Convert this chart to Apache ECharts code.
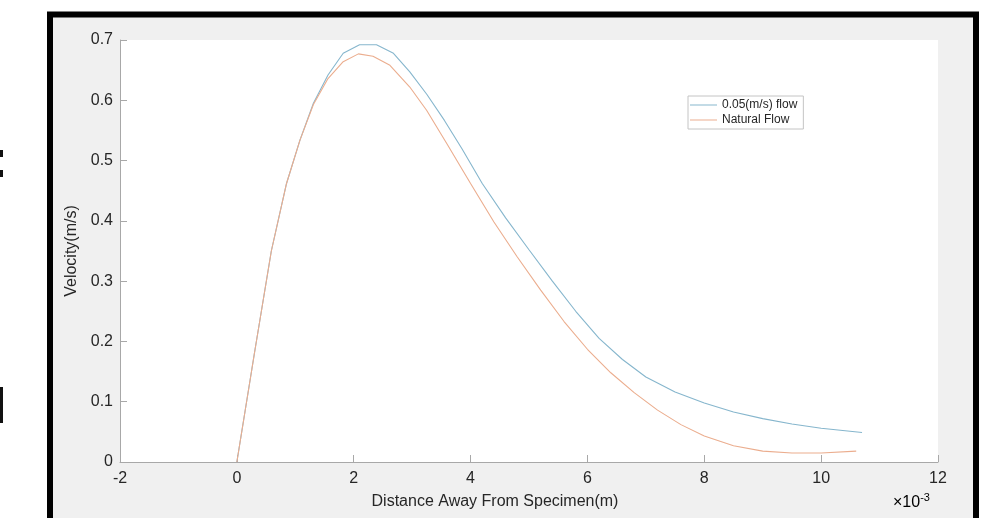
<!DOCTYPE html>
<html>
<head>
  <meta charset="UTF-8">
  <title>Velocity profile</title>
  <script src="https://cdn.jsdelivr.net/npm/echarts@6/dist/echarts.min.js"></script>
  <style>
    html, body { margin: 0; padding: 0; background: #fff; }
  </style>
</head>
<body>
  <div id="chart" style="width:995px; height:518px;"></div>
  <script>
    // x values are in units of 1e-3 m (axis shows x10^-3)
    var flowX = [0, 0.3, 0.59, 0.85, 1.08, 1.31, 1.56, 1.82, 2.1, 2.39, 2.68, 2.96, 3.25, 3.55, 3.85, 4.2, 4.6, 5.0, 5.4, 5.8, 6.2, 6.6, 7.0, 7.5, 8.0, 8.5, 9.0, 9.5, 10.0, 10.7];
    var flowY = [0, 0.18, 0.35, 0.462, 0.534, 0.595, 0.642, 0.678, 0.692, 0.692, 0.678, 0.647, 0.61, 0.567, 0.52, 0.462, 0.405, 0.352, 0.300, 0.250, 0.205, 0.170, 0.141, 0.116, 0.098, 0.083, 0.072, 0.063, 0.056, 0.049];
    var naturalX = [0, 0.3, 0.59, 0.85, 1.08, 1.31, 1.56, 1.82, 2.08, 2.33, 2.62, 2.96, 3.25, 3.6, 4.0, 4.4, 4.8, 5.2, 5.6, 6.0, 6.4, 6.8, 7.2, 7.6, 8.0, 8.5, 9.0, 9.5, 10.0, 10.6];
    var naturalY = [0, 0.18, 0.35, 0.462, 0.534, 0.593, 0.636, 0.664, 0.677, 0.673, 0.658, 0.622, 0.583, 0.527, 0.462, 0.398, 0.340, 0.285, 0.233, 0.187, 0.148, 0.115, 0.086, 0.062, 0.043, 0.027, 0.018, 0.015, 0.015, 0.018];
    var seriesNames = ['0.05(m/s) flow', 'Natural Flow'];

    function pairs(xs, ys) {
      return xs.map(function (x, i) { return [x, ys[i]]; });
    }

    var font = 'Liberation Sans, Arial, sans-serif';
    var chart = echarts.init(document.getElementById('chart'), null, {renderer: 'canvas'});

    chart.setOption({
      backgroundColor: '#fff',
      animation: false,
      graphic: [
        {type: 'rect', z: -10, shape: {x: 50, y: 14.5, width: 926, height: 520},
          style: {fill: '#f0f0f0', stroke: '#000', lineWidth: 6}},
        {type: 'rect', z: -10, shape: {x: 0, y: 150, width: 3, height: 7}, style: {fill: '#111'}},
        {type: 'rect', z: -10, shape: {x: 0, y: 170, width: 3, height: 7}, style: {fill: '#111'}},
        {type: 'rect', z: -10, shape: {x: 0, y: 387, width: 3, height: 36}, style: {fill: '#111'}},
        {type: 'text', x: 495, y: 502,
          style: {text: 'Distance Away From Specimen(m)', font: '16px ' + font, fill: '#262626',
            align: 'center', verticalAlign: 'middle'}},
        {type: 'text', x: 893, y: 503,
          style: {text: '{a|×10}{b|-3}', verticalAlign: 'middle',
            rich: {a: {fontSize: 16, fontFamily: font, color: '#262626'},
                   b: {fontSize: 11, fontFamily: font, color: '#262626', verticalAlign: 'top', padding: [0, 0, 10, 0]}}}}
      ],
      grid: {left: 120, top: 40, right: 57, bottom: 56, show: true,
        backgroundColor: '#fff', borderWidth: 0},
      legend: {
        orient: 'vertical', left: 688, top: 96,
        data: seriesNames,
        icon: 'rect', itemWidth: 27, itemHeight: 1, itemGap: 3,
        padding: [3, 6, 3, 2],
        backgroundColor: '#fff', borderColor: '#c4c4c4', borderWidth: 1,
        textStyle: {fontSize: 12, fontFamily: font, color: '#262626'}
      },
      xAxis: {
        type: 'value', min: -2, max: 12, interval: 2,
        axisLine: {onZero: false, lineStyle: {color: '#a8a8a8'}},
        axisTick: {inside: true, length: 7, lineStyle: {color: '#a8a8a8'}},
        splitLine: {show: false},
        axisLabel: {fontSize: 16, fontFamily: font, color: '#262626', margin: 9}
      },
      yAxis: {
        type: 'value', min: 0, max: 0.7, interval: 0.1,
        name: 'Velocity(m/s)', nameLocation: 'middle', nameGap: 33, nameRotate: 90,
        nameTextStyle: {fontSize: 16, fontFamily: font, color: '#262626'},
        axisLine: {show: true, onZero: false, lineStyle: {color: '#a8a8a8'}},
        axisTick: {show: true, inside: true, length: 7, lineStyle: {color: '#a8a8a8'}},
        splitLine: {show: false},
        axisLabel: {fontSize: 16, fontFamily: font, color: '#262626', margin: 7,
          formatter: function (v) { return v === 0 ? '0' : v.toFixed(1); }}
      },
      series: [
        {name: seriesNames[0], type: 'line', data: pairs(flowX, flowY),
          showSymbol: false, symbol: 'none', color: '#86b6cd',
          lineStyle: {width: 1.1, color: '#86b6cd'}},
        {name: seriesNames[1], type: 'line', data: pairs(naturalX, naturalY),
          showSymbol: false, symbol: 'none', color: '#ebad8e',
          lineStyle: {width: 1.1, color: '#ebad8e'}}
      ]
    });
  </script>
</body>
</html>
